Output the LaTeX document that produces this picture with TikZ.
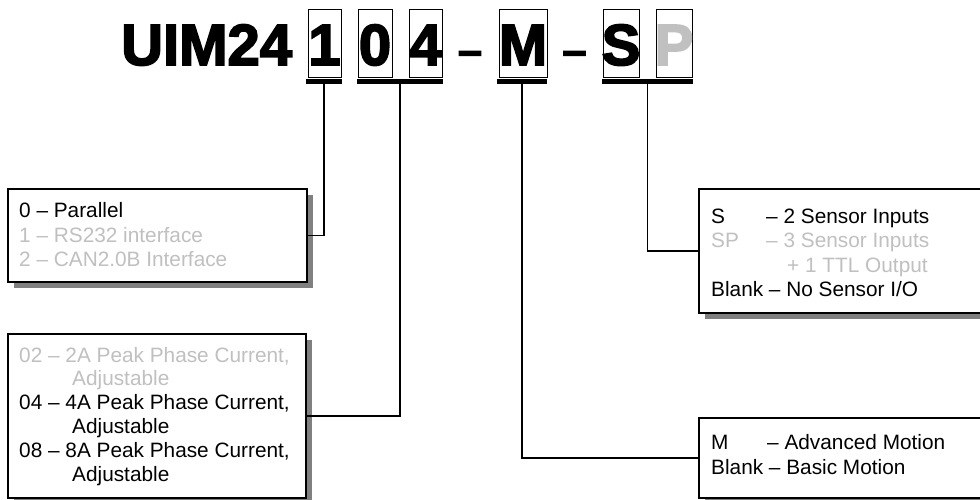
\documentclass[tikz,border=0pt]{standalone}
\usepackage{fontspec}
\setmainfont{Liberation Sans}
\newfontfamily\titlefont{Liberation Sans Bold}[FakeBold=3]
\usetikzlibrary{shadows}
\definecolor{lgray}{HTML}{C0C0C0}
\definecolor{sgray}{HTML}{808080}
\begin{document}
\begin{tikzpicture}[x=1pt,y=-1pt,
  optbox/.style={draw=black,line width=1.8pt,fill=white,inner sep=0pt,
    drop shadow={shadow xshift=6pt,shadow yshift=-6pt,fill=sgray,opacity=1}},
  digbox/.style={draw=black,line width=1pt,inner sep=0pt,minimum height=68pt},
  barnode/.style={fill=black,inner sep=0pt,minimum height=5pt},
  conn/.style={draw=black,line width=1.5pt},
  ttl/.style={inner sep=0pt,font=\titlefont\fontsize{58}{60}\selectfont},
  ttldash/.style={inner sep=0pt,font=\titlefont\fontsize{43}{45}\selectfont},
  txt/.style={inner sep=0pt,font=\fontsize{20.8}{24.6}\selectfont}]
\useasboundingbox (0,0) rectangle (980,500);
\clip (0,0) rectangle (980,500);
% title
\node[ttl,anchor=base west] (uim) at (121,65) {UIM24};
\node[digbox,minimum width=33pt] (b1) at (324.5,44) {};
\node[digbox,minimum width=34pt] (b2) at (375,44) {};
\node[digbox,minimum width=33pt] (b3) at (425.5,44) {};
\node[digbox,minimum width=48pt] (b4) at (523,44) {};
\node[digbox,minimum width=36pt] (b5) at (621,44) {};
\node[digbox,minimum width=36pt] (b6) at (674,44) {};
\node[ttl,anchor=base] (c1) at (324.5,65) {1};
\node[ttl,anchor=base] (c2) at (375,65) {0};
\node[ttl,anchor=base] (c3) at (425.5,65) {4};
\node[ttl,anchor=base] (c4) at (523,65) {M};
\node[ttl,anchor=base] (c5) at (621,65) {S};
\node[ttl,anchor=base,text=lgray] (c6) at (674,65) {P};
\node[ttldash,anchor=base] (dash1) at (470,65) {–};
\node[ttldash,anchor=base] (dash2) at (574.5,65) {–};
% bars
\node[barnode,minimum width=36pt] (bar1) at (324,81.5) {};
\node[barnode,minimum width=86pt] (bar2) at (400,81.5) {};
\node[barnode,minimum width=50pt] (bar3) at (522,81.5) {};
\node[barnode,minimum width=91pt] (bar4) at (647.5,81.5) {};
% option boxes
\node[optbox,minimum width=299pt,minimum height=93pt] (lb1) at (157.5,235.5) {};
\node[optbox,minimum width=298pt,minimum height=164pt] (lb2) at (157,416) {};
\node[optbox,minimum width=302pt,minimum height=124pt] (rb1) at (850,251) {};
\node[optbox,minimum width=302pt,minimum height=80pt] (rb2) at (850,458) {};
% connectors
\draw[conn] (bar1.south) |- (lb1.east);
\draw[conn] (bar2.south) |- (lb2.east);
\draw[conn] (bar3.south) |- (rb2.west);
\draw[conn] (bar4.south) |- (rb1.west);
% texts
\node[txt,anchor=base west] (t1) at (19,217.5) {\begin{tabular}[t]{@{}l@{}}
0 – Parallel\\
\color{lgray}1 – RS232 interface\\
\color{lgray}2 – CAN2.0B Interface
\end{tabular}};
\node[txt,anchor=base west] (t2) at (19,362) {\fontsize{20.8}{23.8}\selectfont\begin{tabular}[t]{@{}l@{}}
\color{lgray}02 – 2A Peak Phase Current,\\
\color{lgray}\hspace*{53pt}Adjustable\\
04 – 4A Peak Phase Current,\\
\hspace*{53pt}Adjustable\\
08 – 8A Peak Phase Current,\\
\hspace*{53pt}Adjustable
\end{tabular}};
\node[txt,anchor=base west] (t3) at (711,223) {\begin{tabular}[t]{@{}l@{}}
\makebox[55pt][l]{S}– 2 Sensor Inputs\\
\color{lgray}\makebox[55pt][l]{SP}– 3 Sensor Inputs\\
\color{lgray}\hspace*{76pt}+ 1 TTL Output\\
Blank – No Sensor I/O
\end{tabular}};
\node[txt,anchor=base west] (t4) at (711,449) {\fontsize{20.8}{25}\selectfont\begin{tabular}[t]{@{}l@{}}
\makebox[56pt][l]{M}– Advanced Motion\\
Blank – Basic Motion
\end{tabular}};
\end{tikzpicture}
\end{document}
